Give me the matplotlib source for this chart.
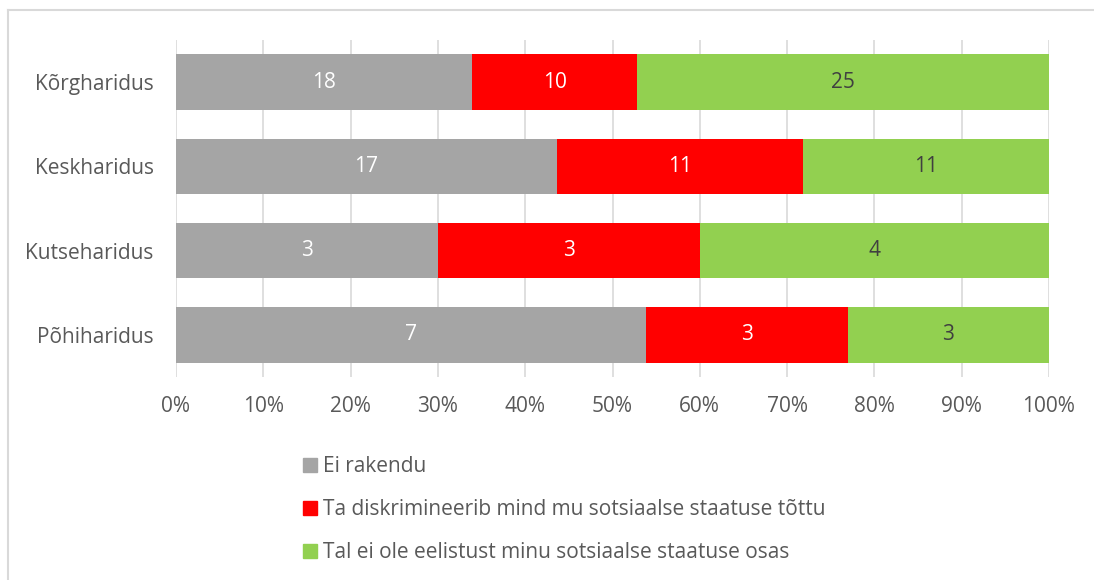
import matplotlib
matplotlib.use("Agg")
import matplotlib.pyplot as plt
import numpy as np
from matplotlib.lines import Line2D

categories = ["Kõrgharidus", "Keskharidus", "Kutseharidus", "Põhiharidus"]
series_names = ["Ei rakendu",
                "Ta diskrimineerib mind mu sotsiaalse staatuse tõttu",
                "Tal ei ole eelistust minu sotsiaalse staatuse osas"]
ei_rakendu = [18, 17, 3, 7]
diskrimineerib = [10, 11, 3, 3]
ei_eelistust = [25, 11, 4, 3]
colors = ["#A5A5A5", "#FF0000", "#92D050"]
label_colors = ["white", "white", "#404040"]
xticks = [0, 10, 20, 30, 40, 50, 60, 70, 80, 90, 100]

plt.rcParams['font.family'] = ['Open Sans', 'DejaVu Sans']
txt = "#595959"
fs = 15

fig = plt.figure(figsize=(10.94, 5.80), dpi=100)
ax = fig.add_axes([176/1094, 1-377/580, (1049-176)/1094, (377-40)/580])

data = np.array([ei_rakendu, diskrimineerib, ei_eelistust], dtype=float)
totals = data.sum(axis=0)
pct = data / totals * 100
y = np.arange(len(categories))
left = np.zeros(len(categories))
for i in range(3):
    bars = ax.barh(y, pct[i], left=left, height=0.66, color=colors[i],
                   label=series_names[i], zorder=3)
    for j, b in enumerate(bars):
        ax.text(left[j] + pct[i][j] / 2, y[j], str(int(data[i][j])),
                ha='center', va='center', color=label_colors[i], fontsize=fs, zorder=4)
    left += pct[i]

ax.set_xlim(0, 100)
ax.set_ylim(len(categories) - 0.5, -0.5)
ax.set_yticks(y)
ax.set_yticklabels(categories, fontsize=fs, color=txt)
ax.set_xticks(xticks)
ax.set_xticklabels([f"{v}%" for v in xticks], fontsize=fs, color=txt)
ax.tick_params(axis='y', length=0, pad=16)
ax.tick_params(axis='x', length=0, pad=14)
ax.grid(axis='x', color='#D9D9D9', linewidth=1.2, zorder=0)
for s in ax.spines.values():
    s.set_visible(False)

handles = [plt.Rectangle((0, 0), 1, 1, color=c) for c in colors]
fig.legend(handles, series_names, loc='upper left', bbox_to_anchor=(295/1094, 1-448/580),
           frameon=False, fontsize=fs, labelcolor=txt, handlelength=0.65, handleheight=0.65,
           handletextpad=0.3, labelspacing=1.05, borderaxespad=0)

# outer chart frame
fig.add_artist(Line2D([8/1094, 1], [1-10/580, 1-10/580], color='#D9D9D9', lw=1.5, transform=fig.transFigure))
fig.add_artist(Line2D([8/1094, 8/1094], [0, 1-10/580], color='#D9D9D9', lw=1.5, transform=fig.transFigure))

fig.savefig("out.png", dpi=100)
